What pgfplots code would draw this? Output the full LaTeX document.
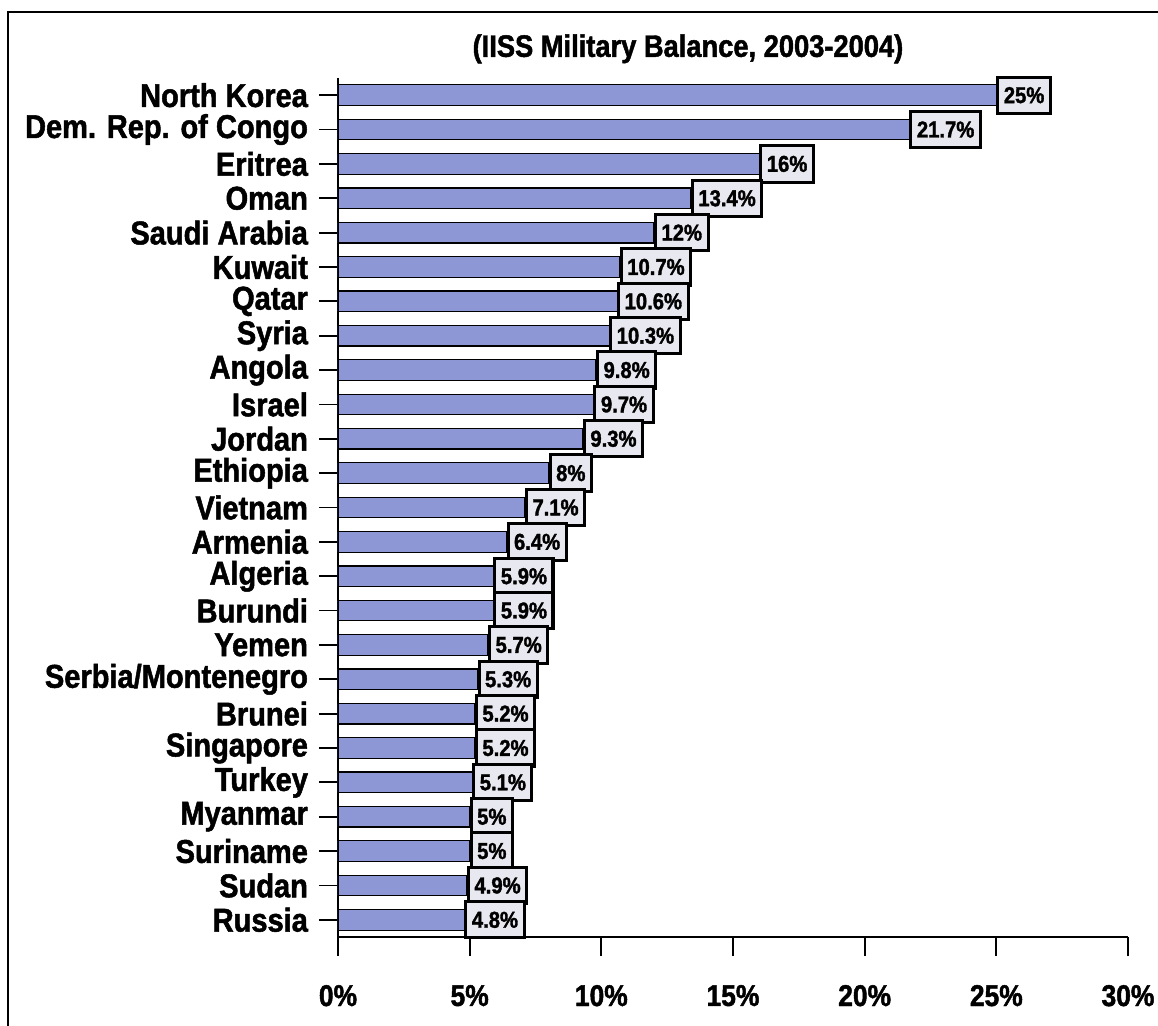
\documentclass[border=0pt]{standalone}
\usepackage{fontspec}
\setmainfont{Liberation Sans}
\newfontfamily\heavy{Liberation Sans Bold}[FakeStretch=0.88, FakeBold=1.5]
\usepackage{pgfplots}
\pgfplotsset{compat=1.18}
\definecolor{barblue}{HTML}{8E97D6}
\definecolor{boxfill}{HTML}{E8E8F0}
\pgfplotstableread{
idx val
0 25
1 21.7
2 16
3 13.4
4 12
5 10.7
6 10.6
7 10.3
8 9.8
9 9.7
10 9.3
11 8
12 7.1
13 6.4
14 5.9
15 5.9
16 5.7
17 5.3
18 5.2
19 5.2
20 5.1
21 5
22 5
23 4.9
24 4.8
}\datatable
\begin{document}
\begin{tikzpicture}
\path[use as bounding box] (0,0) rectangle (579pt,513pt);
\draw[black, line width=0.8pt] (4pt,0) -- (4pt,507pt) -- (579pt,507pt);
\begin{axis}[
  at={(169pt,44.5pt)}, anchor=south west,
  width=395pt, height=429.5pt, scale only axis,
  xmin=0, xmax=30, ymin=-0.5, ymax=24.5, y dir=reverse,
  xbar, bar width=10.3pt,
  axis x line*=bottom, axis y line*=left,
  axis line style={line width=0.9pt, -},
  xtick={0,5,...,30},
  xticklabel={\pgfmathprintnumber{\tick}\%},
  /pgf/number format/assume math mode=true,
  ytick={0,...,24},
  yticklabels={North Korea, Dem. Rep. of Congo, Eritrea, Oman, Saudi Arabia, Kuwait, Qatar, Syria, Angola, Israel, Jordan, Ethiopia, Vietnam, Armenia, Algeria, Burundi, Yemen, Serbia/Montenegro, Brunei, Singapore, Turkey, Myanmar, Suriname, Sudan, Russia},
  tick align=outside, major tick length=9.5pt,
  tick style={black, line width=0.9pt},
  xticklabel style={font=\fontsize{15}{15}\selectfont\heavy, yshift=-11pt},
  yticklabel style={font=\fontsize{16.5}{16.5}\selectfont\heavy, xshift=-2pt},
  title={(IISS Military Balance, 2003-2004)},
  title style={at={(0.443,1.02)}, anchor=center, font=\fontsize{15.5}{15.5}\selectfont\heavy},
  point meta=x,
  nodes near coords={\pgfmathprintnumber{\pgfplotspointmeta}\%},
  nodes near coords style={anchor=west, draw=black, fill=boxfill, line width=1.5pt,
     inner xsep=3pt, inner ysep=5pt, font=\fontsize{11.5}{11.5}\selectfont\heavy},
]
\addplot[draw=black, line width=0.6pt, fill=barblue] table[x=val, y=idx] {\datatable};
\end{axis}
\end{tikzpicture}
\end{document}
